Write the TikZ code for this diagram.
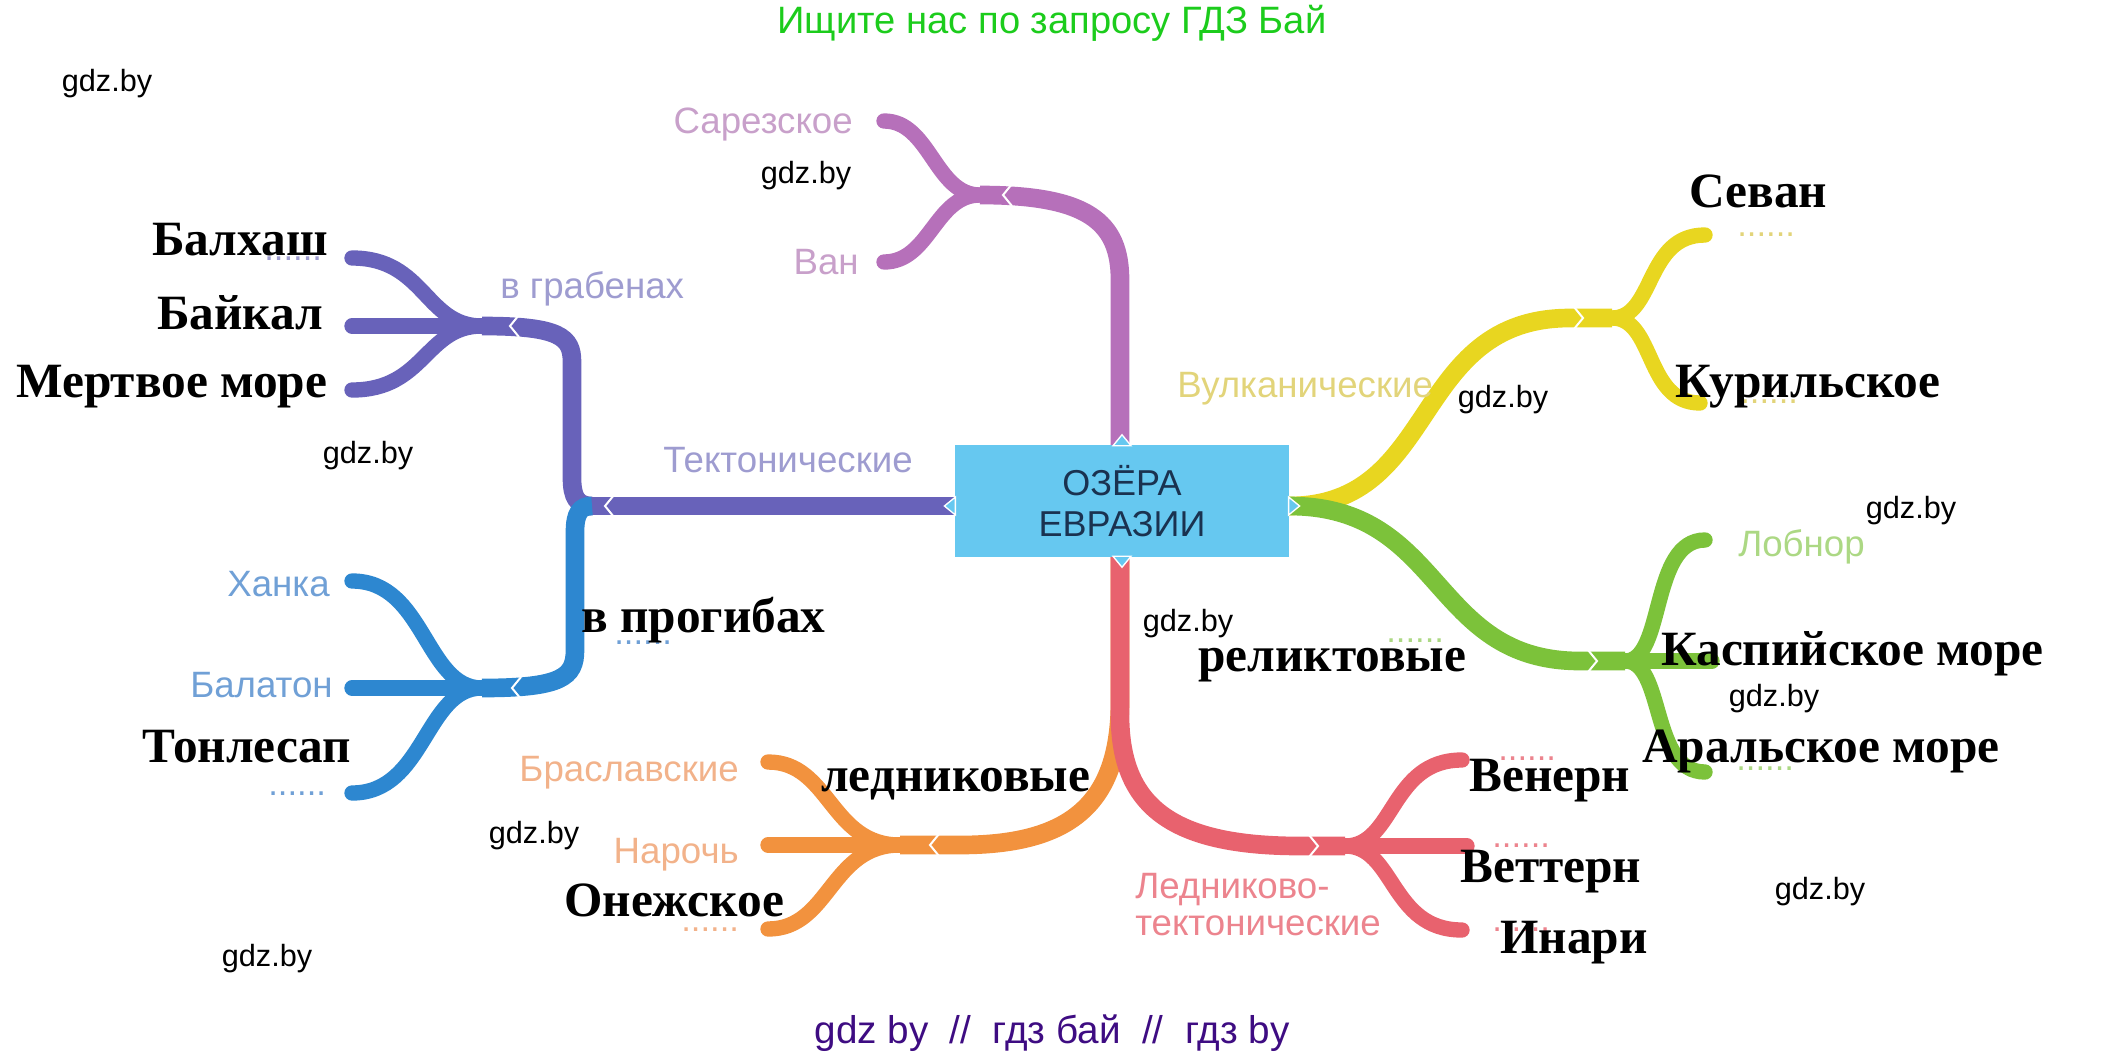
\documentclass[tikz,border=0pt]{standalone}
\usepackage{fontspec}
\setmainfont{Liberation Sans}
\newfontfamily\answerfont{Liberation Serif}
\usetikzlibrary{calc}

\definecolor{cPurple}{RGB}{182,112,186}
\definecolor{cIndigo}{RGB}{104,98,186}
\definecolor{cBlue}{RGB}{45,135,208}
\definecolor{cOrange}{RGB}{242,146,62}
\definecolor{cRed}{RGB}{232,98,110}
\definecolor{cYellow}{RGB}{232,214,32}
\definecolor{cGreen}{RGB}{124,194,58}
\definecolor{boxblue}{RGB}{102,200,240}
\definecolor{boxtext}{RGB}{26,50,80}
\definecolor{lPurple}{RGB}{200,160,202}
\definecolor{lIndigo}{RGB}{158,156,208}
\definecolor{lBlue}{RGB}{112,160,214}
\definecolor{lOrange}{RGB}{242,178,138}
\definecolor{lRed}{RGB}{236,132,142}
\definecolor{lYellow}{RGB}{226,212,122}
\definecolor{lGreen}{RGB}{172,216,132}
\definecolor{titlegreen}{RGB}{28,204,28}
\definecolor{footviolet}{RGB}{62,12,130}

\begin{document}
\begin{tikzpicture}[x=0.75pt,y=0.75pt,yscale=-1,xscale=1,
  trunk/.style={line width=14pt},
  twig/.style={line width=11.5pt,line cap=round},
  notch/.style={draw=white,line width=1.5pt},
  tab/.style={draw=white,line width=1pt,fill=boxblue},
  faded/.style={inner sep=0pt,font=\fontsize{27.5}{29}\selectfont},
  answer/.style={inner sep=0pt,font=\answerfont\bfseries\fontsize{37}{40}\selectfont},
  dots/.style={inner sep=0pt,font=\fontsize{26}{28}\selectfont},
  wmark/.style={inner sep=0pt,font=\fontsize{23}{26}\selectfont}]
\useasboundingbox (0,0) rectangle (2104,1054);

%Coordinates of the branches
\coordinate (kN) at (1120,447);
\coordinate (kS) at (1120,556);
\coordinate (kW) at (956,506);
\coordinate (kE) at (1289,506);
\coordinate (pF) at (980,195);
\coordinate (pSar) at (884,121);
\coordinate (pVan) at (884,262);
\coordinate (tJ) at (592,506);
\coordinate (gF) at (482,326);
\coordinate (gBal) at (352,258);
\coordinate (gBai) at (352,326);
\coordinate (gMer) at (352,390);
\coordinate (bF) at (482,688);
\coordinate (bHan) at (352,581);
\coordinate (bBal) at (352,688);
\coordinate (bTon) at (352,793);
\coordinate (oF) at (900,845);
\coordinate (oBra) at (768,762);
\coordinate (oNar) at (768,845);
\coordinate (oOne) at (768,929);
\coordinate (rF) at (1345,846);
\coordinate (rVen) at (1462,760);
\coordinate (rVet) at (1467,846);
\coordinate (rIna) at (1462,930);
\coordinate (yF) at (1612,318);
\coordinate (ySev) at (1705,235);
\coordinate (yKur) at (1700,403);
\coordinate (grF) at (1625,661);
\coordinate (grLob) at (1705,540);
\coordinate (grKas) at (1712,661);
\coordinate (grAra) at (1705,772);

%Purple branch
\draw[trunk,cPurple] (kN) -- (1120,280) .. controls (1120,222) and (1088,195) .. (pF);
\draw[twig,cPurple] (pF) .. controls (935,195) and (930,121) .. (pSar);
\draw[twig,cPurple] (pF) .. controls (935,195) and (930,262) .. (pVan);
%Tectonic branch, in grabens
\draw[trunk,cIndigo] (kW) -- (tJ);
\draw[trunk,cIndigo] (tJ) .. controls (577,506) and (572,497) .. (572,478) -- (572,362) .. controls (572,337) and (560,326) .. (gF);
\draw[twig,cIndigo] (gF) .. controls (425,326) and (425,258) .. (gBal);
\draw[twig,cIndigo] (gF) -- (gBai);
\draw[twig,cIndigo] (gF) .. controls (425,326) and (425,390) .. (gMer);
%In troughs
\draw[trunk,cBlue] (tJ) .. controls (580,506) and (575,513) .. (575,532) -- (575,650) .. controls (575,677) and (562,688) .. (bF);
\draw[twig,cBlue] (bF) .. controls (425,688) and (425,581) .. (bHan);
\draw[twig,cBlue] (bF) -- (bBal);
\draw[twig,cBlue] (bF) .. controls (425,688) and (425,793) .. (bTon);
%Glacial branch
\draw[trunk,cOrange] (kS) -- (1120,700) .. controls (1120,800) and (1075,845) .. (960,845) -- (oF);
\draw[twig,cOrange] (oF) .. controls (830,845) and (830,762) .. (oBra);
\draw[twig,cOrange] (oF) -- (oNar);
\draw[twig,cOrange] (oF) .. controls (830,845) and (830,929) .. (oOne);
%Glacial-tectonic branch
\draw[trunk,cRed] (kS) -- (1120,715) .. controls (1120,805) and (1170,846) .. (1300,846) -- (rF);
\draw[twig,cRed] (rF) .. controls (1395,846) and (1390,760) .. (rVen);
\draw[twig,cRed] (rF) -- (rVet);
\draw[twig,cRed] (rF) .. controls (1395,846) and (1390,930) .. (rIna);
%Volcanic branch
\draw[trunk,cYellow] (kE) .. controls (1440,506) and (1410,318) .. (1570,318) -- (yF);
\draw[twig,cYellow] (yF) .. controls (1655,318) and (1645,235) .. (ySev);
\draw[twig,cYellow] (yF) .. controls (1655,318) and (1645,403) .. (yKur);
%Relict branch
\draw[trunk,cGreen] (kE) .. controls (1445,506) and (1430,661) .. (1580,661) -- (grF);
\draw[twig,cGreen] (grF) .. controls (1665,661) and (1650,540) .. (grLob);
\draw[twig,cGreen] (grF) -- (grKas);
\draw[twig,cGreen] (grF) .. controls (1665,661) and (1650,772) .. (grAra);

%Notches
\draw[notch] (1012,184) -- (1003,195) -- (1012,206);
\draw[notch] (614,495) -- (605,506) -- (614,517);
\draw[notch] (519,315) -- (510,326) -- (519,337);
\draw[notch] (521,677) -- (512,688) -- (521,699);
\draw[notch] (939,834) -- (930,845) -- (939,856);
\draw[notch] (1309,835) -- (1318,846) -- (1309,857);
\draw[notch] (1574,307) -- (1583,318) -- (1574,329);
\draw[notch] (1588,650) -- (1597,661) -- (1588,672);

%Centre box
\node[fill=boxblue,minimum width=251pt,minimum height=84pt,inner sep=0pt,align=center,text=boxtext,font=\fontsize{27}{31}\selectfont] (lakes) at (1122,501) {ОЗЁРА\\ЕВРАЗИИ};
\filldraw[tab] ($(lakes.north)+(-9,1)$) -- ($(lakes.north)+(0,-10)$) -- ($(lakes.north)+(9,1)$) -- cycle;
\filldraw[tab] ($(lakes.south)+(-9,-1)$) -- ($(lakes.south)+(0,10)$) -- ($(lakes.south)+(9,-1)$) -- cycle;
\filldraw[tab] ($(lakes.west)+(1,-4)$) -- ($(lakes.west)+(-10,5)$) -- ($(lakes.west)+(1,14)$) -- cycle;
\filldraw[tab] ($(lakes.east)+(-1,-4)$) -- ($(lakes.east)+(10,5)$) -- ($(lakes.east)+(-1,14)$) -- cycle;

% Text Node
\node[faded,text=lPurple,anchor=base east] (sar) at (853,133) {Сарезское};
\node[faded,text=lPurple,anchor=base east] (van) at (859,274) {Ван};
\node[faded,text=lIndigo,anchor=base west] (grab) at (500,298) {в грабенах};
\node[faded,text=lIndigo,anchor=base west] (tect) at (663,472) {Тектонические};
\node[faded,text=lBlue,anchor=base east] (han) at (330,596) {Ханка};
\node[faded,text=lBlue,anchor=base east] (balat) at (333,697) {Балатон};
\node[faded,text=lOrange,anchor=base east] (bras) at (739,781) {Браславские};
\node[faded,text=lOrange,anchor=base east] (nar) at (739,863) {Нарочь};
\node[faded,text=lRed,anchor=north west,align=left,font=\fontsize{27.5}{28.1}\selectfont] (lted) at (1135,873) {Ледниково-\\тектонические};
\node[faded,text=lYellow,anchor=base west] (vulk) at (1177,397) {Вулканические};
\node[faded,text=lGreen,anchor=base west] (lob) at (1738,556) {Лобнор};

% Dotted gaps
\node[dots,text=lIndigo,anchor=west] (d1) at (264,259) {......};
\node[dots,text=lBlue,anchor=west] (d2) at (268,794) {......};
\node[dots,text=lBlue,anchor=west] (d3) at (614,643) {......};
\node[dots,text=lOrange,anchor=west] (d4) at (681,930) {......};
\node[dots,text=lGreen,anchor=west] (d5) at (1386,641) {......};
\node[dots,text=lYellow,anchor=west] (d6) at (1737,235) {......};
\node[dots,text=lYellow,anchor=west] (d7) at (1740,402) {......};
\node[dots,text=lGreen,anchor=west] (d8) at (1736,769) {......};
\node[dots,text=lRed,anchor=west] (d9) at (1498,759) {......};
\node[dots,text=lRed,anchor=west] (d10) at (1492,846) {......};
\node[dots,text=lRed,anchor=west] (d11) at (1492,930) {......};

% Answers
\node[answer,anchor=base west] (balh) at (152,255) {Балхаш};
\node[answer,anchor=base west] (baik) at (157,329) {Байкал};
\node[answer,anchor=base west] (mert) at (16,397) {Мертвое море};
\node[answer,anchor=base west] (tonl) at (142,762) {Тонлесап};
\node[answer,anchor=base west] (prog) at (581,632) {в прогибах};
\node[answer,anchor=base west] (ledn) at (821,791) {ледниковые};
\node[answer,anchor=base west] (onej) at (564,916) {Онежское};
\node[answer,anchor=base west] (sev) at (1689,207) {Севан};
\node[answer,anchor=base west] (kur) at (1675,397) {Курильское};
\node[answer,anchor=base west] (kasp) at (1661,665) {Каспийское море};
\node[answer,anchor=base west] (aral) at (1642,762) {Аральское море};
\node[answer,anchor=base west] (relk) at (1198,671) {реликтовые};
\node[answer,anchor=base west] (ven) at (1469,791) {Венерн};
\node[answer,anchor=base west] (vet) at (1460,882) {Веттерн};
\node[answer,anchor=base west] (ina) at (1500,953) {Инари};

% Watermarks
\node[inner sep=0pt,anchor=base,text=titlegreen,font=\fontsize{28.6}{30}\selectfont] (title) at (1052,33) {Ищите нас по запросу ГДЗ Бай};
\node[inner sep=0pt,anchor=base,text=footviolet,font=\fontsize{29}{30}\selectfont] (foot) at (1052,1043) {gdz by\ \ //\ \ гдз бай\ \ //\ \ гдз by};
\node[wmark] (w1) at (107,84) {gdz.by};
\node[wmark] (w2) at (806,176) {gdz.by};
\node[wmark] (w3) at (368,456) {gdz.by};
\node[wmark] (w4) at (1503,400) {gdz.by};
\node[wmark] (w5) at (1911,511) {gdz.by};
\node[wmark] (w6) at (1188,624) {gdz.by};
\node[wmark] (w7) at (1774,699) {gdz.by};
\node[wmark] (w8) at (534,836) {gdz.by};
\node[wmark] (w9) at (1820,892) {gdz.by};
\node[wmark] (w10) at (267,959) {gdz.by};

\end{tikzpicture}
\end{document}
